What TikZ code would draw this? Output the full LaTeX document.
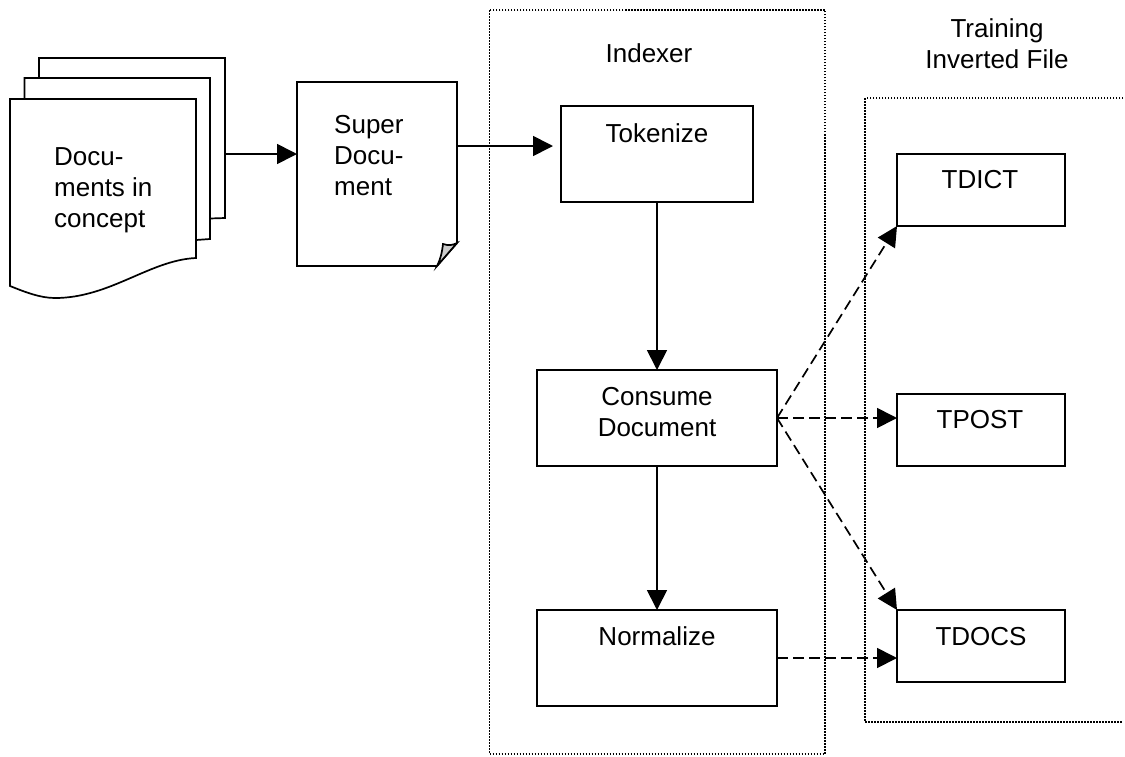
\documentclass[tikz,border=0pt]{standalone}
\usepackage{fontspec}
\setmainfont{Liberation Sans}
\usetikzlibrary{arrows.meta,calc}
\tikzset{
  line/.style={line width=1.7pt,draw=black},
  boxnode/.style={line,rectangle,fill=white,inner sep=0pt,outer sep=0pt},
  group/.style={line width=1.7pt,draw=black,dash pattern=on 1.5pt off 1.5pt},
  lbl/.style={anchor=base,inner sep=0pt,font=\fontsize{26}{31}\selectfont},
  flow/.style={line,-{Triangle[length=20pt,width=20pt]}},
  dflow/.style={flow,dash pattern=on 10.5pt off 5.5pt},
}
\begin{document}
\begin{tikzpicture}[x=1pt,y=-1pt]
\useasboundingbox (0,0) rectangle (1125,756);
\fill[white] (0,0) rectangle (1125,756);
% groups
\draw[group] (489.5,10) rectangle (825,754);
\draw[group] (1126,98) -- (865,98) -- (865,722) -- (1123,722);
% stacked documents
\path[line,fill=white] (39,78) -- (39,58) -- (225,58) -- (225,218) -- (210,218.5);
\path[line,fill=white] (24.5,99) -- (24.5,78) -- (210,78) -- (210,239) -- (196,240);
\path[line,fill=white] (10,99) -- (196,99) -- (196,258)
  .. controls (150,260) and (110,298) .. (55,298)
  .. controls (40,298) and (25,292) .. (10,286) -- cycle;
\coordinate (stackOut) at (225,154);
\node[lbl,anchor=base west] (docs) at (54,165.7) {Docu-};
\node[lbl,anchor=base west] (docs2) at (54,196) {ments in};
\node[lbl,anchor=base west] (docs3) at (54,227) {concept};
% super document
\path[line,fill=white] (297,82) -- (457,82) -- (457,243) -- (437,266) -- (297,266) -- cycle;
\path[line,fill=black!20] (437,266) .. controls (441,258) and (442,252) .. (443,244)
  .. controls (449,246) and (453,245) .. (457,243) -- cycle;
\coordinate (superIn) at (297,154);
\coordinate (superOut) at (457,146);
\coordinate (tokIn) at (553,146);
\node[lbl,anchor=base west] (sup1) at (334,133) {Super};
\node[lbl,anchor=base west] (sup2) at (334,164) {Docu-};
\node[lbl,anchor=base west] (sup3) at (334,195) {ment};
% indexer
\node[lbl] (idx) at (649,62) {Indexer};
\node[boxnode,minimum width=192pt,minimum height=96pt] (tok) at (657,154) {};
\node[boxnode,minimum width=240pt,minimum height=96pt] (cons) at (657,418) {};
\node[boxnode,minimum width=240pt,minimum height=96pt] (norm) at (657,658) {};
\node[lbl] (tokL) at (657,142) {Tokenize};
\node[lbl] (consL) at (657,405) {Consume};
\node[lbl] (consL2) at (657,436) {Document};
\node[lbl] (normL) at (657,645) {Normalize};
% inverted file
\node[lbl] (tr1) at (997,37) {Training};
\node[lbl] (tr2) at (997,68) {Inverted File};
\node[boxnode,minimum width=168pt,minimum height=72pt] (tdict) at (981,190) {};
\node[boxnode,minimum width=168pt,minimum height=72pt] (tpost) at (981,430) {};
\node[boxnode,minimum width=168pt,minimum height=72pt] (tdocs) at (981,646) {};
\node[lbl] (tdictL) at (980,188) {TDICT};
\node[lbl] (tpostL) at (980,428) {TPOST};
\node[lbl] (tdocsL) at (981,645) {TDOCS};
% connectors
\draw[flow] (stackOut) -- (superIn);
\draw[flow] (superOut) -- (tokIn);
\draw[flow] (tok.south) -- (cons.north);
\draw[flow] (cons.south) -- (norm.north);
\draw[dflow] (cons.east) -- (tdict.south west);
\draw[dflow] (cons.east) -- (cons.east -| tpost.west);
\draw[dflow] (cons.east) -- (tdocs.north west);
\draw[dflow] (norm.east) -- (norm.east -| tdocs.west);
\end{tikzpicture}
\end{document}
